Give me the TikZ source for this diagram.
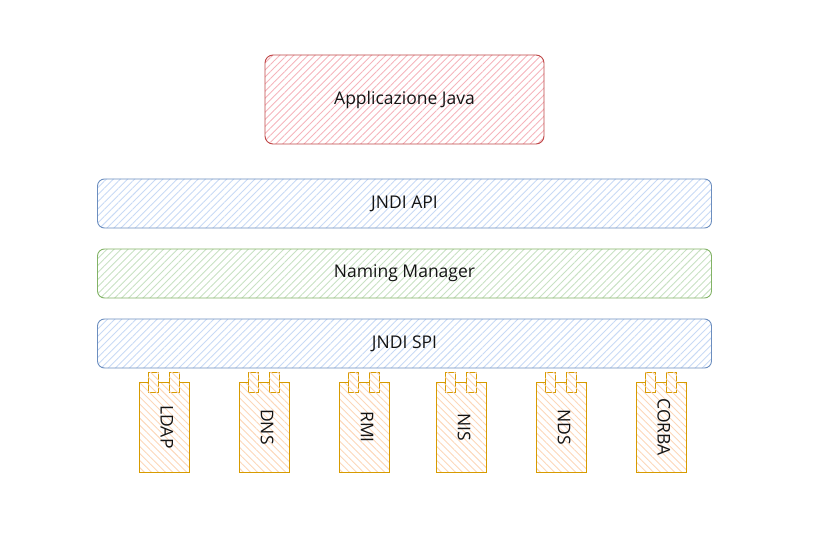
\documentclass[tikz,border=0pt]{standalone}
\usepackage{fontspec}
\setmainfont{Open Sans}
\usepackage{tikz}
\usetikzlibrary{positioning,patterns.meta}
\definecolor{appred}{RGB}{190,70,70}
\definecolor{appfill}{RGB}{245,180,188}
\definecolor{apiblue}{RGB}{108,142,191}
\definecolor{apifill}{RGB}{200,218,245}
\definecolor{mgrgreen}{RGB}{130,179,102}
\definecolor{mgrfill}{RGB}{200,225,195}
\definecolor{spiorange}{RGB}{215,155,0}
\definecolor{spifill}{RGB}{252,215,185}
\definecolor{inkgray}{RGB}{20,20,20}
\tikzset{
  layer/.style={draw=#1, rounded corners=7pt, line width=0.9pt,
                minimum width=614pt, minimum height=49pt, inner sep=0pt,
                outer sep=0pt, font=\fontsize{17.5}{20}\selectfont, text=inkgray},
  hatch/.style={pattern={Lines[angle=45,distance=5pt,line width=0.9pt]},
                pattern color=#1},
  provider/.style={draw=spiorange, line width=0.9pt, minimum width=50pt,
                   minimum height=90pt, inner sep=0pt, outer sep=0pt,
                   pattern={Lines[angle=-45,distance=5pt,line width=0.9pt]},
                   pattern color=spifill},
  tab/.style={draw=spiorange, line width=0.9pt, minimum width=10.5pt,
              minimum height=20pt, inner sep=0pt, fill=white,
              postaction={pattern={Lines[angle=-45,distance=5pt,line width=0.9pt]},
                          pattern color=spifill}},
  provlabel/.style={rotate=-90, font=\fontsize{17.5}{20}\selectfont, text=inkgray}
}

\begin{document}
\begin{tikzpicture}[x=1pt, y=-1pt, node distance=21pt]
  \useasboundingbox (0,0) rectangle (827,540);
  \node[layer=appred, hatch=appfill, rounded corners=8pt, minimum width=279pt,
        minimum height=89pt] (app) at (404.5,99.5) {Applicazione Java};
  \node[layer=apiblue, hatch=apifill, below=35pt of app] (api) {JNDI API};
  \node[layer=mgrgreen, hatch=mgrfill, below=of api] (mgr) {Naming Manager};
  \node[layer=apiblue, hatch=apifill, below=of mgr] (spi) {JNDI SPI};
  % service providers
  \foreach \x/\lab/\nm in {164/LDAP/ldap, 264/DNS/dns, 364/RMI/rmi,
                           461/NIS/nis, 561/NDS/nds, 661/CORBA/corba} {
    \node[provider] (\nm) at (\x,427) {};
    \node[provlabel] at ([xshift=3pt]\nm) {\lab};
    \node[tab] (\nm-a) at ([xshift=-10.5pt]\nm.north) {};
    \node[tab] (\nm-b) at ([xshift=10.5pt]\nm.north) {};
  }
\end{tikzpicture}
\end{document}
